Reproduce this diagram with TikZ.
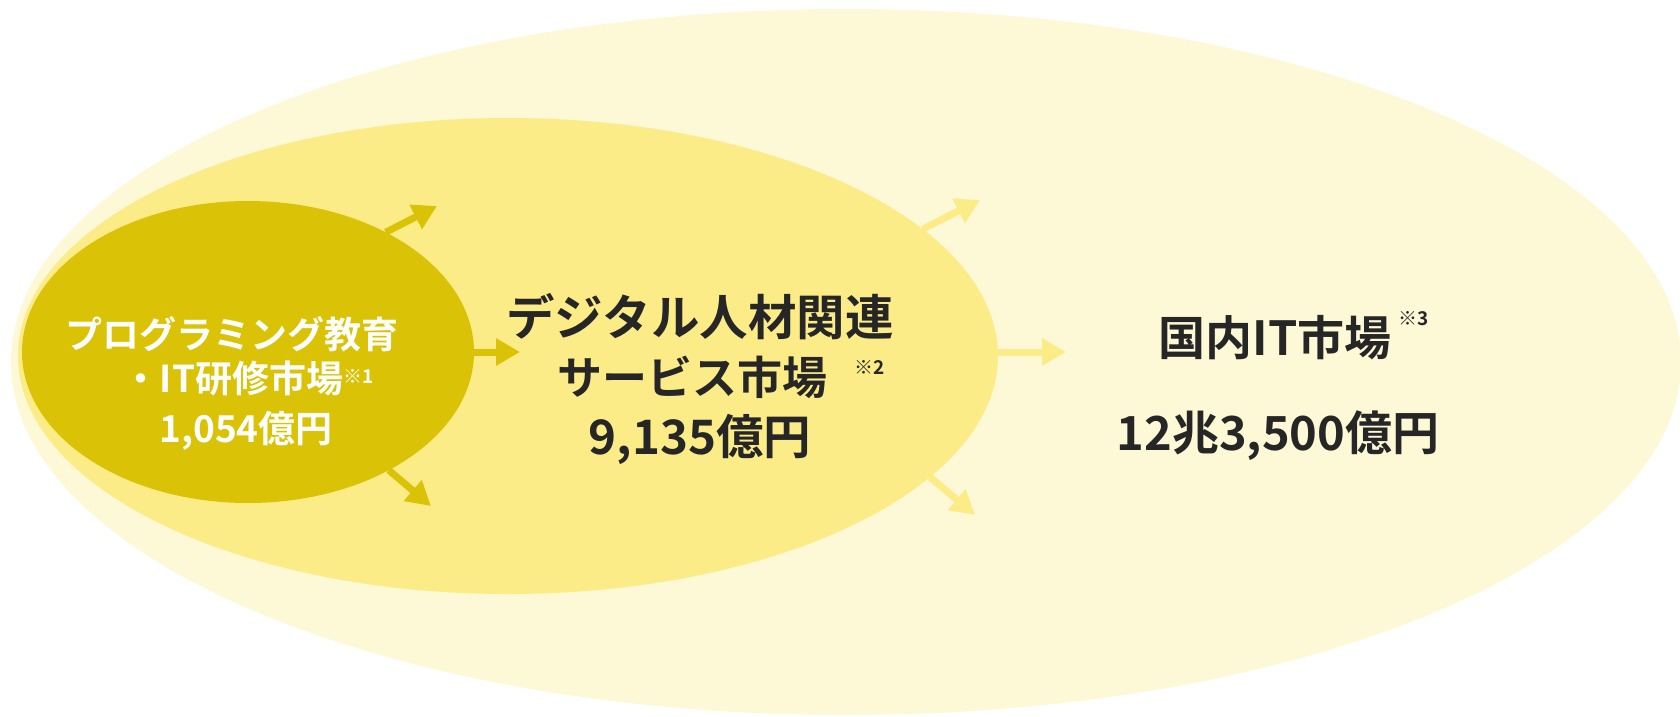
\documentclass[tikz,border=0pt]{standalone}
\usepackage{fontspec}
\setmainfont{Noto Sans CJK JP}[BoldFont={Noto Sans CJK JP Bold}]
\usetikzlibrary{arrows.meta,shapes.geometric}
\definecolor{outerc}{HTML}{FDF8D5}
\definecolor{midc}{HTML}{FCEC88}
\definecolor{innerc}{HTML}{DAC306}
\definecolor{txt}{HTML}{262626}
\begin{document}
\begin{tikzpicture}[x=1pt,y=-1pt,
  blob/.style={ellipse, draw=none, inner sep=0pt, outer sep=0pt},
  arr/.style={line width=7pt, -{Triangle[length=24pt,width=26pt]}},
  lbl/.style={anchor=base, inner sep=0pt},
  fin/.style={font=\bfseries\fontsize{37pt}{40pt}\selectfont, text=white},
  fmid/.style={font=\bfseries\fontsize{47.5pt}{50pt}\selectfont, text=txt},
  fout/.style={font=\bfseries\fontsize{47pt}{50pt}\selectfont, text=txt},
  fnote/.style={font=\bfseries\fontsize{19pt}{20pt}\selectfont},
]
\useasboundingbox (0,0) rectangle (1680,716);
\node[blob, fill=outerc, minimum width=1670pt, minimum height=706pt] (outer) at (846,362) {};
\node[blob, fill=midc, minimum width=980pt, minimum height=476pt] (middle) at (508,356) {};
\coordinate (m1) at (980,200);
\coordinate (m2s) at (994,352);
\coordinate (m2) at (1066,352);
\coordinate (m3) at (975,515);
\draw[arr, midc] (middle.17.1) -- (m1);
\draw[arr, midc] (m2s) -- (m2);
\draw[arr, midc] (middle.-16.3) -- (m3);
\node[blob, fill=innerc, minimum width=452pt, minimum height=302pt] (inner) at (248,352) {};
\coordinate (i1) at (437,206);
\coordinate (i2) at (520,352);
\coordinate (i3) at (431,506);
\draw[arr, innerc] (inner.41.7) -- (i1);
\draw[arr, innerc] (inner.0) -- (i2);
\draw[arr, innerc] (inner.-40.4) -- (i3);
% inner text
\node[lbl, fin] (a1) at (232,348) {プログラミング教育};
\node[lbl, fin] (a2) at (233,392) {・IT研修市場};
\node[lbl, fnote, text=white, anchor=base west, yshift=9pt] (a2n) at (a2.base east) {※1};
\node[lbl, fin] (a3) at (246,442) {1,054億円};
% middle text
\node[lbl, fmid, font=\bfseries\fontsize{48.5pt}{50pt}\selectfont] (b1) at (700,335) {デジタル人材関連};
\node[lbl, fmid, font=\bfseries\fontsize{45pt}{50pt}\selectfont] (b2) at (692,394) {サービス市場};
\node[lbl, fnote, text=txt] (b2n) at (870,374) {※2};
\node[lbl, fmid] (b3) at (700,454) {9,135億円};
% outer text
\node[lbl, fout] (c1) at (1275,355) {国内IT市場};
\node[lbl, fnote, text=txt] (c1n) at (1414,325) {※3};
\node[lbl, fout] (c2) at (1278,450) {12兆3,500億円};
\end{tikzpicture}
\end{document}
